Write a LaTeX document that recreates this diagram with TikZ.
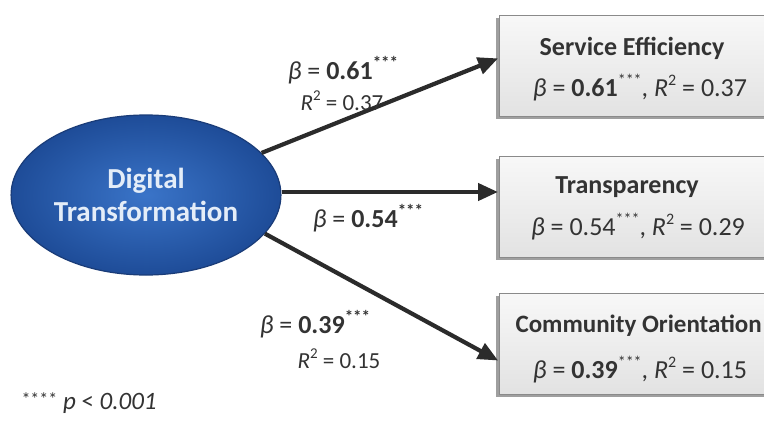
\documentclass[tikz,border=0pt]{standalone}
\usepackage{fontspec}
\setmainfont{Carlito}
\usetikzlibrary{arrows.meta,shapes.geometric}
\definecolor{ellfill}{HTML}{3A74C8}
\definecolor{elldark}{HTML}{1E4C98}
\definecolor{ellborder}{HTML}{1A3C78}
\definecolor{elltext}{HTML}{E4EDF8}
\definecolor{arrowcol}{HTML}{2B2B2B}
\definecolor{boxfill}{HTML}{EDEDED}
\definecolor{boxborder}{HTML}{8A8A8A}
\definecolor{txtcol}{HTML}{333333}
\newcommand{\sups}[2]{\raisebox{0.42em}{\fontsize{#1}{#1}\selectfont #2}}
\tikzset{
  x=1pt,y=-1pt,
  conn/.style={draw=arrowcol,line width=4.2pt,-{Triangle[length=20pt,width=17pt]},shorten >=1pt},
  resbox/.style={draw=boxborder,line width=1pt,top color=white!60!boxfill,bottom color=boxfill!90!gray,minimum height=101pt,minimum width=290pt,anchor=north west,inner sep=0pt},
  shadowbox/.style={fill=gray!75,minimum height=101pt,minimum width=290pt,anchor=north west,inner sep=0pt},
  title/.style={font=\fontsize{26}{30}\selectfont\bfseries,text=txtcol,anchor=center},
  stat/.style={font=\fontsize{26}{30}\selectfont,text=txtcol,anchor=center},
  elabel/.style={font=\fontsize{26}{30}\selectfont,text=txtcol,anchor=center},
  rlabel/.style={font=\fontsize{23}{26}\selectfont,text=txtcol,anchor=center}
}
\begin{document}
\begin{tikzpicture}
\useasboundingbox (0,0) rectangle (764,423);
\fill[white] (0,0) rectangle (764,423);
\begin{scope}
\clip (0,0) rectangle (764,423);
% ellipse
\node[ellipse,draw=ellborder,line width=1.2pt,inner color=ellfill,outer color=elldark,
  minimum width=268pt,minimum height=160pt,
  font=\fontsize{29}{33}\selectfont\bfseries,text=elltext,align=center] (dt) at (146,195) {Digital\\Transformation};
% boxes
\node[shadowbox] (s1) at (496,18) {};
\node[resbox] (b1) at (499,15) {};
\node[shadowbox] (s2) at (496,159) {};
\node[resbox] (b2) at (499,156) {};
\node[shadowbox] (s3) at (496,296) {};
\node[resbox] (b3) at (499,293) {};
\node[title] (t1) at (632,48) {Service Efficiency};
\node[stat] (r1) at (640,88) {\textit{β} = \textbf{0.61}\sups{16}{***}, \textit{R}\sups{16}{2} = 0.37};
\node[title] (t2) at (627,187) {Transparency};
\node[stat] (r2) at (638,227) {\textit{β} = 0.54\sups{16}{***}, \textit{R}\sups{16}{2} = 0.29};
\node[title,anchor=west,font=\fontsize{25}{30}\selectfont\bfseries] (t3) at (512,326) {Community Orientation};
\node[stat] (r3) at (640,370) {\textit{β} = \textbf{0.39}\sups{16}{***}, \textit{R}\sups{16}{2} = 0.15};
% connector endpoints
\coordinate (e1) at (497,58);
\coordinate (e2) at (497,192);
\coordinate (e3) at (497,361);
\draw[conn] (dt.20) -- (b1.west |- e1);
\draw[conn] (dt.east |- e2) -- (b2.west |- e2);
\draw[conn] (dt.-18) -- (b3.west |- e3);
% labels
\node[elabel] (l1) at (343,70) {\textit{β} = \textbf{0.61}\sups{17}{\textbf{***}}};
\node[rlabel] (l1r) at (342,101) {\textit{R}\sups{15}{2} = 0.37};
\node[elabel] (l2) at (368,218) {\textit{β} = \textbf{0.54}\sups{17}{\textbf{***}}};
\node[elabel] (l3) at (315,324) {\textit{β} = \textbf{0.39}\sups{17}{\textbf{***}}};
\node[rlabel] (l3r) at (339,359) {\textit{R}\sups{15}{2} = 0.15};
\node[anchor=west,font=\fontsize{25}{28}\selectfont,text=txtcol] (pn) at (18,403) {\raisebox{0.15em}{\fontsize{18}{18}\selectfont ****} \textit{p} < \textit{0.001}};
\end{scope}
\end{tikzpicture}
\end{document}
